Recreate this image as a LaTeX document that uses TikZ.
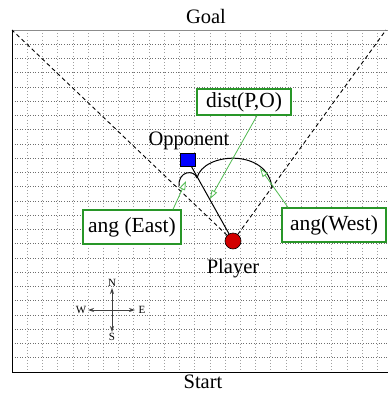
\documentclass[tikz,border=0pt]{standalone}
\usepackage{fontspec}
\setmainfont{Liberation Serif}
\usetikzlibrary{arrows.meta}
\definecolor{boxgreen}{RGB}{40,150,40}
\definecolor{arrgreen}{RGB}{80,185,80}
\definecolor{pred}{RGB}{210,0,0}
\definecolor{gridv}{RGB}{160,160,160}
\definecolor{gridh}{RGB}{110,110,110}
\begin{document}
\begin{tikzpicture}[x=1pt,y=-1pt,
  lbl/.style={font=\fontsize{20.5}{22}\selectfont, inner sep=0},
  small/.style={font=\fontsize{11}{11}\selectfont, inner sep=0},
  gbox/.style={draw=boxgreen, line width=1.2pt, fill=white, font=\fontsize{21.5}{23}\selectfont, inner sep=0, align=center},
  garrow/.style={draw=arrgreen, line width=0.8pt, -{Triangle[length=9pt,width=6pt,fill=white]}},
  dashline/.style={line width=0.9pt, dash pattern=on 4pt off 3pt},
  compass/.style={draw=black!75, line width=0.9pt, -{Stealth[length=6pt,width=4pt]}},
  vgrid/.style={draw=gridv, line width=0.6pt, dash pattern=on 1pt off 2.2pt},
  hgrid/.style={draw=gridh, line width=0.6pt, dash pattern=on 0.8pt off 1.8pt}]
\useasboundingbox (0,0) rectangle (388,394);
% grid
\begin{scope}
\clip (12,30) rectangle (388,372);
\foreach \k in {1,...,24} \draw[vgrid] (12+15.22*\k,30) -- (12+15.22*\k,372);
\foreach \k in {1,...,23} \draw[hgrid] (12,30+14.25*\k) -- (388,30+14.25*\k);
\end{scope}
% border
\draw[draw=black!45, line width=1pt] (12,30) -- (388,30);
\draw[line width=1pt] (12,30) -- (12,372) -- (388,372);
% players
\node[circle, draw, fill=pred, minimum size=16pt, inner sep=0, line width=0.6pt] (P) at (233,241) {};
\node[rectangle, draw, fill=blue, minimum width=15pt, minimum height=13pt, inner sep=0, line width=0.6pt] (O) at (187.5,159.5) {};
\coordinate (GL) at (12,30);
\coordinate (GR) at (386,30);
\draw[dashline] (P) -- (GL);
\draw[dashline] (P) -- (GR);
\draw[line width=1pt] (O) -- (P);
% arcs
\coordinate (eA) at (179,186);
\coordinate (eB) at (197,178);
\coordinate (wB) at (272,188);
\draw[line width=1pt] (eA) .. controls (178,171) and (194,169) .. (eB);
\draw[line width=1pt] (eB) .. controls (203,152) and (268,148) .. (wB);
% labels
\node[lbl, anchor=base] (goal) at (206,23) {Goal};
\node[lbl, anchor=base] (start) at (203,388) {Start};
\node[lbl, anchor=base] (opp) at (189,145) {Opponent};
\node[lbl, anchor=base] (pl) at (233,273) {Player};
% green boxes
\node[gbox, minimum width=94pt, minimum height=26pt] (dist) at (244,102) {dist(P,O)};
\node[gbox, minimum width=98pt, minimum height=34pt] (east) at (132,227) {ang (East)};
\node[gbox, minimum width=104pt, minimum height=34pt] (west) at (334,225) {ang(West)};
\coordinate (tD) at (210,199);
\coordinate (tE) at (186,181);
\coordinate (tW) at (260,168);
\draw[garrow] ([xshift=13pt]dist.south) -- (tD);
\draw[garrow] ([xshift=41pt]east.north) -- (tE);
\draw[garrow] ([xshift=-46pt]west.north) -- (tW);
% compass
\coordinate (C) at (112,310);
\coordinate (cN) at (112,288);
\coordinate (cS) at (112,332);
\coordinate (cW) at (88,310);
\coordinate (cE) at (135,310);
\draw[compass] (C) -- (cN);
\draw[compass] (C) -- (cS);
\draw[compass] (C) -- (cW);
\draw[compass] (C) -- (cE);
\node[small] (lN) at (112,283) {N};
\node[small] (lS) at (112,337) {S};
\node[small] (lW) at (81,310) {W};
\node[small] (lE) at (142,310) {E};
\end{tikzpicture}
\end{document}
